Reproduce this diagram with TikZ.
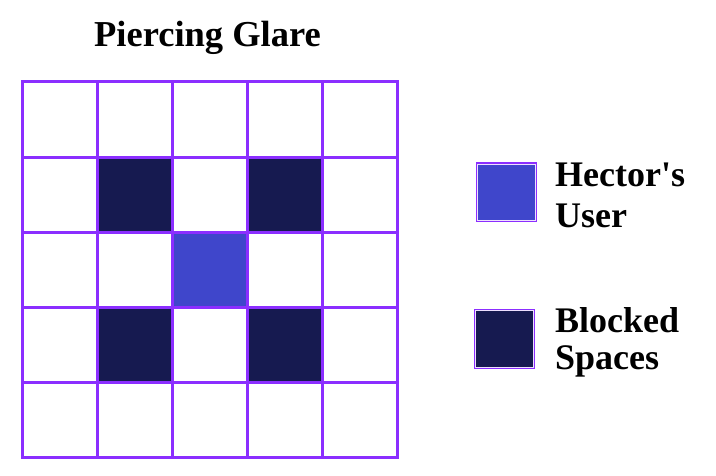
\documentclass[tikz,border=0pt]{standalone}
\usepackage{fontspec}
\setmainfont{Liberation Serif}
\definecolor{gridpurple}{HTML}{8B2EFF}
\definecolor{navy}{HTML}{161A50}
\definecolor{userblue}{HTML}{3F46CB}
\tikzset{
  gridline/.style={draw=gridpurple, line width=3pt},
  blocked/.style={fill=navy},
  usercell/.style={fill=userblue},
  legendbox/.style={draw=gridpurple, line width=2pt, minimum width=59pt, minimum height=58pt, inner sep=0pt},
  legendtext/.style={font=\fontsize{36}{41}\selectfont\bfseries, anchor=north west, align=left, inner sep=0pt},
}
\begin{document}
\begin{tikzpicture}[x=1pt,y=-1pt]
\useasboundingbox (0,0) rectangle (716,476);
% title
\node[font=\fontsize{36.5}{40}\selectfont\bfseries, anchor=base] (title) at (207.5,46.5) {Piercing Glare};
% filled cells
\def\cs{75.1}
\foreach \c/\r in {1/1,3/1,1/3,3/3}
  \fill[blocked] (22+\c*\cs,82+\r*\cs) rectangle ++(\cs,\cs);
\fill[usercell] (22+2*\cs,82+2*\cs) rectangle ++(\cs,\cs);
% grid lines
\foreach \i in {0,...,5} {
  \draw[gridline] (22+\i*\cs,82) -- (22+\i*\cs,457.5);
  \draw[gridline] (22,82+\i*\cs) -- (397.5,82+\i*\cs);
}
\draw[gridline, line cap=rect] (22,82) rectangle (397.5,457.5);
% legend
\node[legendbox, fill=userblue] (leguser) at (506,192.5) {};
\draw[white!85!gridpurple, line width=0.6pt] ([shift={(1.7,1.7)}]leguser.north west) rectangle ([shift={(-1.7,-1.7)}]leguser.south east);
\node[legendbox, fill=navy] (legblock) at (504,339) {};
\draw[white!85!gridpurple, line width=0.6pt] ([shift={(1.7,1.7)}]legblock.north west) rectangle ([shift={(-1.7,-1.7)}]legblock.south east);
\node[legendtext, anchor=base west] (tuser) at (555,187) {Hector\textquotesingle s};
\node[legendtext, anchor=base west] (tuser2) at (555,228) {User};
\node[legendtext, anchor=base west] (tblock) at (555,333) {Blocked};
\node[legendtext, anchor=base west] (tblock2) at (555,370) {Spaces};
\end{tikzpicture}
\end{document}
